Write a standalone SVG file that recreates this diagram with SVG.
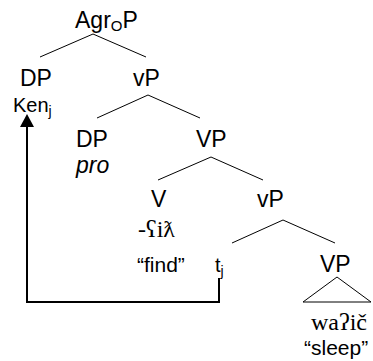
<svg xmlns="http://www.w3.org/2000/svg" width="373" height="361" viewBox="0 0 373 361">
  <style>
    .lbl { font-family: "Liberation Sans", Arial, sans-serif; font-size: 23px; fill: #000; }
    .sm { font-size: 20px; }
    .gl { font-size: 21px; }
    .ipa { font-family: "Liberation Serif", "DejaVu Serif", serif; font-size: 24px; fill: #000; }
    .edge { stroke: #000; stroke-width: 1; fill: none; }
    .move { stroke: #000; stroke-width: 2; fill: none; }
  </style>

  <!-- tree branches and the movement line -->
  <g id="edges">
    <path class="edge" d="M40,57 L93,34 L146,57"/>
    <path class="edge" d="M97,118 L148,95 L200,118"/>
    <path class="edge" d="M158,180 L211,157 L263,180"/>
    <path class="edge" d="M232,243 L283,220 L335,243"/>
    <path class="edge" d="M303,302 L337,277 L371,302 Z"/>
    <!-- movement of Ken from the trace position -->
    <path class="move" d="M219,278 L219,302 L27,302 L27,124"/>
    <path d="M27,114 L20,127 L34,127 Z" fill="#000"/>
  </g>

  <g id="agrop">
    <text class="lbl" x="75" y="28">Agr<tspan font-size="15" dy="3">O</tspan><tspan dy="-3">P</tspan></text>
  </g>
  <g id="dp-ken">
    <text class="lbl" x="20" y="86">DP</text>
    <text class="lbl sm" x="13" y="112">Ken<tspan font-size="14" dy="4">j</tspan></text>
  </g>
  <g id="vp-upper">
    <text class="lbl" x="133" y="86">vP</text>
  </g>
  <g id="dp-pro">
    <text class="lbl" x="76" y="147">DP</text>
    <text class="lbl" x="76" y="173" font-style="italic">pro</text>
  </g>
  <g id="VP-upper">
    <text class="lbl" x="196" y="147">VP</text>
  </g>
  <g id="v-find">
    <text class="lbl" x="151" y="207">V</text>
    <text class="ipa" x="138" y="237">-ʕiƛ</text>
    <text class="lbl gl" x="137" y="272">“find”</text>
  </g>
  <g id="vp-lower">
    <text class="lbl" x="257" y="207">vP</text>
  </g>
  <g id="trace">
    <text class="lbl sm" x="215" y="272">t<tspan font-size="14" dy="4">j</tspan></text>
  </g>
  <g id="VP-lower">
    <text class="lbl" x="320" y="272">VP</text>
    <text class="ipa" x="311" y="330">waʔič</text>
    <text class="lbl gl" x="304" y="355">“sleep”</text>
  </g>
</svg>
